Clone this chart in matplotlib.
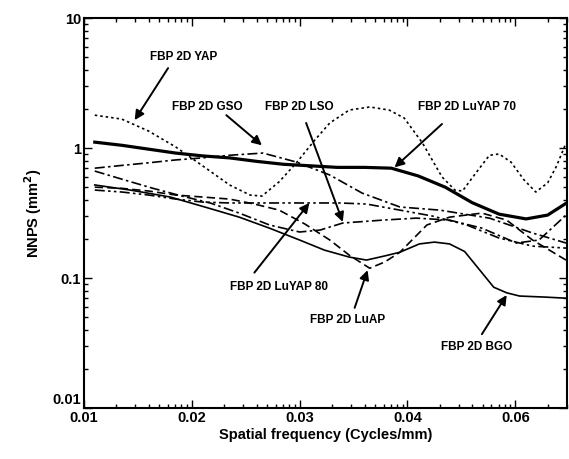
import numpy as np
import matplotlib
matplotlib.use('Agg')
import matplotlib.pyplot as plt
import matplotlib.transforms as mtransforms
from matplotlib.ticker import FixedLocator, FixedFormatter, LogLocator, NullFormatter

plt.rcParams['font.family'] = ['Liberation Sans', 'DejaVu Sans']
plt.rcParams['font.weight'] = 'bold'

# tick labels on the frequency axis (one per decade-like block)
freq_labels = ['0.01', '0.02', '0.03', '0.04', '0.06']

# FBP 2D LuYAP 70
luyap70_pos = [0.10, 0.35, 0.60, 0.85, 1.10, 1.35, 1.60, 1.85, 2.10, 2.35, 2.60, 2.85, 3.10, 3.35, 3.60, 3.85, 4.10, 4.30, 4.48]
luyap70_nnps = [1.11, 1.05, 0.98, 0.915, 0.87, 0.84, 0.79, 0.75, 0.73, 0.71, 0.71, 0.70, 0.61, 0.50, 0.38, 0.31, 0.285, 0.305, 0.38]

# FBP 2D YAP
yap_pos = [0.10, 0.35, 0.60, 0.85, 1.10, 1.35, 1.54, 1.65, 1.81, 1.97, 2.14, 2.28, 2.46, 2.65, 2.83, 2.97,
           3.14, 3.32, 3.44, 3.51, 3.62, 3.76, 3.85, 3.96, 4.08, 4.19, 4.30, 4.38, 4.47]
yap_nnps = [1.79, 1.67, 1.35, 1.02, 0.73, 0.52, 0.435, 0.427, 0.55, 0.77, 1.15, 1.56, 1.96, 2.07, 1.96, 1.70,
            1.09, 0.60, 0.475, 0.467, 0.62, 0.88, 0.90, 0.78, 0.57, 0.459, 0.54, 0.72, 1.09]

# FBP 2D GSO
gso_pos = [0.10, 0.35, 0.60, 0.85, 1.10, 1.35, 1.66, 1.97, 2.28, 2.58, 2.93, 3.30, 3.76, 4.16, 4.47]
gso_nnps = [0.70, 0.735, 0.77, 0.81, 0.84, 0.88, 0.915, 0.78, 0.62, 0.45, 0.352, 0.333, 0.289, 0.222, 0.186]

# FBP 2D LSO
lso_pos = [0.10, 0.37, 0.64, 0.91, 1.17, 1.44, 1.72, 2.00, 2.19, 2.40, 2.77, 3.08, 3.39, 3.69, 4.01, 4.22, 4.47]
lso_nnps = [0.665, 0.57, 0.49, 0.427, 0.378, 0.316, 0.256, 0.226, 0.234, 0.265, 0.279, 0.289, 0.279, 0.242, 0.186, 0.196, 0.305]

# FBP 2D LuYAP 80
luyap80_pos = [0.10, 0.35, 0.60, 0.85, 1.10, 1.35, 1.63, 2.00, 2.37, 2.62, 2.93, 3.23, 3.55, 3.85, 4.16, 4.47]
luyap80_nnps = [0.475, 0.459, 0.435, 0.405, 0.384, 0.378, 0.378, 0.378, 0.378, 0.371, 0.333, 0.30, 0.256, 0.203, 0.176, 0.170]

# FBP 2D LuAP
luap_pos = [0.10, 0.35, 0.60, 0.85, 1.10, 1.35, 1.58, 1.81, 2.05, 2.28, 2.46, 2.65, 2.79, 2.93, 3.18, 3.39,
            3.69, 3.92, 4.16, 4.47]
luap_nnps = [0.50, 0.49, 0.467, 0.435, 0.42, 0.405, 0.371, 0.333, 0.26, 0.196, 0.15, 0.119, 0.133, 0.158, 0.256, 0.294,
             0.316, 0.279, 0.196, 0.1375]

# FBP 2D BGO
bgo_pos = [0.10, 0.43, 0.80, 1.12, 1.44, 1.72, 2.00, 2.23, 2.46, 2.62, 2.79, 2.93, 3.11, 3.25, 3.39, 3.53,
           3.69, 3.80, 3.92, 4.04, 4.27, 4.47]
bgo_nnps = [0.52, 0.475, 0.42, 0.352, 0.294, 0.242, 0.196, 0.164, 0.145, 0.1375, 0.148, 0.158, 0.183, 0.189, 0.183, 0.16,
            0.11, 0.085, 0.077, 0.0727, 0.0714, 0.070]

# label, text position, arrow tail, arrow head
notes = [
    ('FBP 2D YAP', (0.92, 5.0), (0.78, 4.12), (0.47, 1.64)),
    ('FBP 2D GSO', (1.14, 2.07), (1.32, 1.79), (1.65, 1.05)),
    ('FBP 2D LSO', (2.00, 2.07), (2.06, 1.56), (2.40, 0.27)),
    ('FBP 2D LuYAP 70', (3.55, 2.07), (3.32, 1.53), (2.88, 0.71)),
    ('FBP 2D LuYAP 80', (1.81, 0.085), (1.58, 0.11), (2.09, 0.378)),
    ('FBP 2D LuAP', (2.44, 0.0475), (2.51, 0.059), (2.63, 0.115)),
    ('FBP 2D BGO', (3.64, 0.0294), (3.69, 0.037), (3.92, 0.074)),
]

fig = plt.figure(figsize=(5.69, 4.59), dpi=100)
ax = fig.add_axes([0.1476, 0.111, 0.849, 0.8497])

dotted = (0, (1.5, 1.8))
dashed = (0, (5, 2.5))
dashdot = (0, (6, 2, 1.5, 2))
dashdotdot = (0, (6, 2, 1.5, 2, 1.5, 2))

ax.plot(yap_pos, yap_nnps, color='black', lw=1.2, ls=dotted)
ax.plot(luyap70_pos, luyap70_nnps, color='black', lw=2.3, ls='-')
ax.plot(gso_pos, gso_nnps, color='black', lw=1.2, ls=dashdot)
ax.plot(lso_pos, lso_nnps, color='black', lw=1.2, ls=dashdot)
ax.plot(luyap80_pos, luyap80_nnps, color='black', lw=1.2, ls=dashdotdot)
ax.plot(luap_pos, luap_nnps, color='black', lw=1.2, ls=dashed)
ax.plot(bgo_pos, bgo_nnps, color='black', lw=1.2, ls='-')

for text, txy, tail, head in notes:
    ax.text(txy[0], txy[1], text, ha='center', va='center', fontsize=8.5, fontweight='bold')
    ax.annotate('', xy=head, xytext=tail,
                arrowprops=dict(arrowstyle='-|>', color='black', lw=1.4,
                                mutation_scale=14, shrinkA=0, shrinkB=0))

ax.set_yscale('log')
ax.set_ylim(0.01, 10)
ax.set_xlim(0, 4.48)

ax.xaxis.set_major_locator(FixedLocator(range(len(freq_labels))))
ax.xaxis.set_major_formatter(FixedFormatter(freq_labels))
minor = [k + np.log10(m) for k in range(5) for m in range(2, 10) if k + np.log10(m) < 4.48]
ax.xaxis.set_minor_locator(FixedLocator(minor))

ax.yaxis.set_major_locator(FixedLocator([0.01, 0.1, 1, 10]))
ax.yaxis.set_major_formatter(FixedFormatter(['0.01', '0.1', '1', '10']))
ax.yaxis.set_minor_locator(LogLocator(base=10, subs=np.arange(2, 10)))
ax.yaxis.set_minor_formatter(NullFormatter())

ax.tick_params(which='both', direction='in', top=True, right=True, width=1.0)
ax.tick_params(which='major', length=6, labelsize=10.5, pad=2)
ax.tick_params(which='minor', length=3)
for lab in ax.get_xticklabels() + ax.get_yticklabels():
    lab.set_fontweight('bold')
for side in ax.spines.values():
    side.set_linewidth(1.5)

# sit the bottom y label just above the axis line
fig.canvas.draw()
lift = mtransforms.ScaledTranslation(0, 1 / 72, fig.dpi_scale_trans)
first_y = ax.get_yticklabels()[0]
first_y.set_transform(first_y.get_transform() + lift)
first_y.set_va('bottom')

ax.set_xlabel('Spatial frequency (Cycles/mm)', fontsize=10.5, fontweight='bold', labelpad=2)
ax.set_ylabel('NNPS (mm$^\\mathbf{2}$)', fontsize=10.5, fontweight='bold', labelpad=6)

fig.savefig('out.png', dpi=100)
